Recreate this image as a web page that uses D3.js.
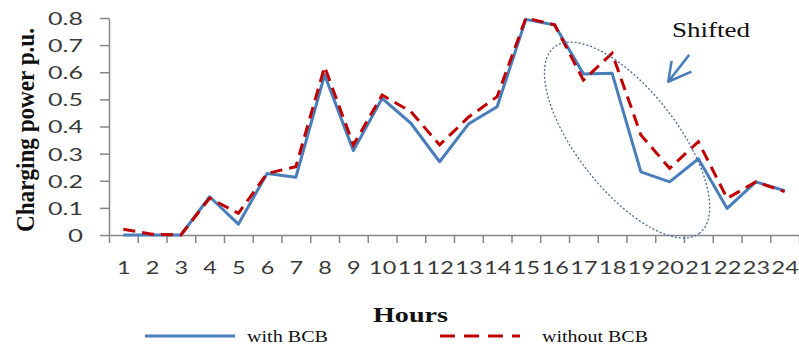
<!DOCTYPE html>
<html>
<head>
<meta charset="utf-8">
<script src="https://cdn.jsdelivr.net/npm/d3@7"></script>
<style>
  body { margin: 0; background: #fff; }
  svg { display: block; }
</style>
</head>
<body>
<svg width="799" height="348"></svg>
<script>
const svg = d3.select("svg");

// data
const hours = d3.range(1, 25);
const withBCB = [0, 0, 0, 0.141, 0.04, 0.227, 0.213, 0.59, 0.311, 0.504, 0.412, 0.27,
                 0.409, 0.473, 0.795, 0.774, 0.594, 0.596, 0.233, 0.196, 0.281, 0.098, 0.196, 0.163];
const withoutBCB = [0.021, 0.003, 0, 0.136, 0.08, 0.227, 0.252, 0.62, 0.332, 0.516, 0.455, 0.332,
                    0.434, 0.51, 0.8, 0.775, 0.571, 0.67, 0.369, 0.246, 0.344, 0.135, 0.196, 0.16];
const yTicks = [0, 0.1, 0.2, 0.3, 0.4, 0.5, 0.6, 0.7, 0.8];
const seriesNames = ["with BCB", "without BCB"];

const plotLeft = 109, plotRight = 799, plotTop = 18, plotBottom = 235;

const x = d3.scaleLinear().domain([0.5, 24.5]).range([plotLeft, plotRight]);
const y = d3.scaleLinear().domain([0, 0.8]).range([plotBottom, plotTop]);

const axisColor = "#868686";
const blue = "#4a7ebb";
const red = "#c00000";

// y axis
const gy = svg.append("g")
    .attr("transform", `translate(${plotLeft},0)`)
    .call(d3.axisLeft(y).tickValues(yTicks).tickSize(9).tickSizeOuter(0).tickPadding(17)
        .tickFormat(d => d === 0 ? "0" : d.toFixed(1)));
gy.select(".domain").attr("stroke", axisColor).attr("stroke-width", 1.5);
gy.selectAll(".tick line").attr("stroke", axisColor).attr("stroke-width", 1.5);
gy.selectAll(".tick text")
    .attr("font-family", "Lato, 'Open Sans', sans-serif")
    .attr("font-size", 18)
    .attr("fill", "#3a3a3a")
    .attr("dy", "0.36em")
    .attr("textLength", function() { return this.textContent.length === 1 ? 15 : 35; })
    .attr("lengthAdjust", "spacingAndGlyphs");

// x axis: tick marks at hour boundaries, labels at centres
const gx = svg.append("g")
    .attr("transform", `translate(0,${plotBottom})`)
    .call(d3.axisBottom(x).tickValues(d3.range(0.5, 25, 1)).tickSize(8).tickSizeOuter(0).tickFormat(""));
gx.select(".domain").attr("stroke", axisColor).attr("stroke-width", 1.5);
gx.selectAll(".tick line").attr("stroke", axisColor).attr("stroke-width", 1.5);

const gxl = svg.append("g")
    .attr("transform", `translate(0,${plotBottom})`)
    .call(d3.axisBottom(x).tickValues(hours).tickSize(0).tickFormat(d => d));
gxl.select(".domain").remove();
gxl.selectAll(".tick text")
    .attr("font-family", "Lato, 'Open Sans', sans-serif")
    .attr("font-size", 18)
    .attr("fill", "#3a3a3a")
    .attr("y", 39)
    .attr("dy", 0)
    .attr("textLength", function() { return this.textContent.length * 13.6; })
    .attr("lengthAdjust", "spacingAndGlyphs");

// lines
const line = d3.line().x((d, i) => x(hours[i])).y(d => y(d));

svg.append("path")
    .datum(withBCB)
    .attr("d", line)
    .attr("fill", "none")
    .attr("stroke", blue)
    .attr("stroke-width", 3)
    .attr("stroke-linejoin", "round");

svg.append("path")
    .datum(withoutBCB)
    .attr("d", line)
    .attr("fill", "none")
    .attr("stroke", red)
    .attr("stroke-width", 3)
    .attr("stroke-dasharray", "12,7");

// annotation: ellipse round the shifted hours, arrow and label
const cx = x(18.52), cy = y(0.35);
svg.append("ellipse")
    .attr("transform", `translate(${cx},${cy}) rotate(52)`)
    .attr("rx", 118)
    .attr("ry", 50)
    .attr("fill", "none")
    .attr("stroke", "#4b6a90")
    .attr("stroke-width", 1.3)
    .attr("stroke-dasharray", "2,2");

const tip = [x(19.95), y(0.565)];
svg.append("path")
    .attr("d", `M${x(20.68)},${y(0.664)}L${tip[0]},${tip[1]}`
        + `M${x(20.07)},${y(0.642)}L${tip[0]},${tip[1]}L${x(20.76)},${y(0.602)}`)
    .attr("fill", "none")
    .attr("stroke", blue)
    .attr("stroke-width", 2.5)
    .attr("stroke-linejoin", "round");

svg.append("text")
    .attr("x", 672)
    .attr("y", 37)
    .attr("font-family", "'Liberation Serif', serif")
    .attr("font-size", 22)
    .attr("fill", "#111")
    .attr("textLength", 78)
    .attr("lengthAdjust", "spacingAndGlyphs")
    .text("Shifted");

// axis titles
svg.append("text")
    .attr("transform", "translate(34,130) scale(1.3,1) rotate(-90)")
    .attr("text-anchor", "middle")
    .attr("font-family", "'Liberation Serif', serif")
    .attr("font-weight", "bold")
    .attr("font-size", 19)
    .attr("fill", "#111")
    .attr("textLength", 204)
    .attr("lengthAdjust", "spacingAndGlyphs")
    .text("Charging power p.u.");

svg.append("text")
    .attr("x", 373)
    .attr("y", 322)
    .attr("font-family", "'Liberation Serif', serif")
    .attr("font-weight", "bold")
    .attr("font-size", 22)
    .attr("fill", "#111")
    .attr("textLength", 75)
    .attr("lengthAdjust", "spacingAndGlyphs")
    .text("Hours");

// legend
const legendItems = [
  { name: seriesNames[0], color: blue, dash: null, x0: 145, x1: 235, tx: 247, tw: 81 },
  { name: seriesNames[1], color: red, dash: "15,9", x0: 440, x1: 520, tx: 542, tw: 106 }
];
const lg = svg.append("g");
legendItems.forEach(it => {
  lg.append("line")
      .attr("x1", it.x0).attr("x2", it.x1)
      .attr("y1", 336).attr("y2", 336)
      .attr("stroke", it.color)
      .attr("stroke-width", 3)
      .attr("stroke-dasharray", it.dash);
  lg.append("text")
      .attr("x", it.tx)
      .attr("y", 342)
      .attr("font-family", "'Liberation Serif', serif")
      .attr("font-size", 16)
      .attr("fill", "#111")
      .attr("textLength", it.tw)
      .attr("lengthAdjust", "spacingAndGlyphs")
      .text(it.name);
});
</script>
</body>
</html>
